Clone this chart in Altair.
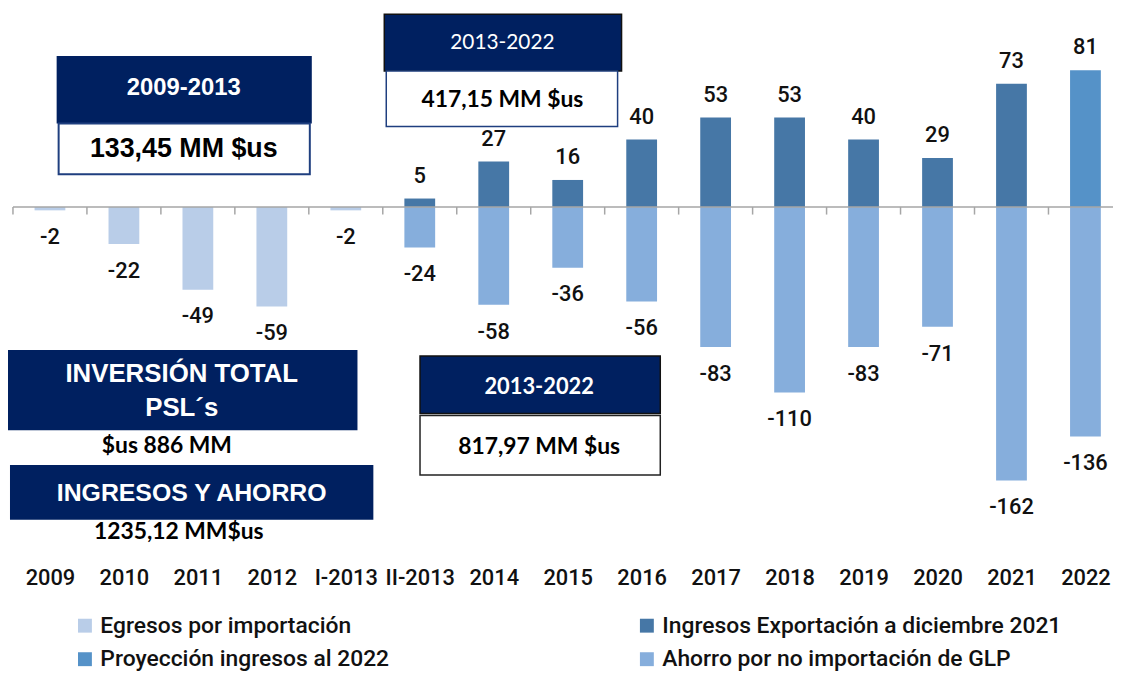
import altair as alt
import pandas as pd

# ---------------- data ----------------
categories = ["2009", "2010", "2011", "2012", "I-2013", "II-2013", "2014", "2015",
              "2016", "2017", "2018", "2019", "2020", "2021", "2022"]

series_names = ["Egresos por importación",
                "Ingresos Exportación a diciembre 2021",
                "Proyección ingresos al 2022",
                "Ahorro por no importación de GLP"]
series_colors = ["#B9CDE8", "#4677A6", "#5592C8", "#86AEDC"]
# legend lists entries column by column: left column then right column
legend_order = [series_names[0], series_names[2], series_names[1], series_names[3]]

egresos_cats = ["2009", "2010", "2011", "2012", "I-2013"]
egresos_vals = [-2, -22, -49, -59, -2]

ingresos_cats = ["II-2013", "2014", "2015", "2016", "2017", "2018", "2019", "2020", "2021"]
ingresos_vals = [5, 27, 16, 40, 53, 53, 40, 29, 73]

proyeccion_cats = ["2022"]
proyeccion_vals = [81]

ahorro_cats = ["II-2013", "2014", "2015", "2016", "2017", "2018", "2019", "2020", "2021", "2022"]
ahorro_vals = [-24, -58, -36, -56, -83, -110, -83, -71, -162, -136]

rows = []
for name, cats, vals in zip(series_names,
                            [egresos_cats, ingresos_cats, proyeccion_cats, ahorro_cats],
                            [egresos_vals, ingresos_vals, proyeccion_vals, ahorro_vals]):
    for c, v in zip(cats, vals):
        rows.append({"cat": c, "pos": categories.index(c) + 0.5, "series": name,
                     "value": v, "label": str(v)})
df = pd.DataFrame(rows)
ticks_df = pd.DataFrame({"edge": list(range(len(categories)))})
one = pd.DataFrame({"k": [0]})

color_of = dict(zip(series_names, series_colors))

# ---------------- styling ----------------
NUM_FONT = "Roboto"
ARIAL = "Liberation Sans"
CAL = "Lato"
NAVY = "#002060"

PLOT_W = 1108
STEP = 74.5
cat_js = "[" + ",".join("'%s'" % c for c in categories) + "]"

x_scale = alt.Scale(domain=[0, PLOT_W / STEP], nice=False, zero=False, padding=0)
x_axis = alt.Axis(title=None, domain=False, ticks=False, grid=False, labelAngle=0,
                  values=[i + 0.5 for i in range(len(categories))],
                  labelExpr=cat_js + "[floor(datum.value)]",
                  labelFont=NUM_FONT, labelFontSize=22, labelFontWeight=500,
                  labelColor="#111111", labelPadding=33, labelBaseline="middle",
                  labelOverlap=False, labelFlush=False)
y_scale = alt.Scale(domain=[-200, 100], nice=False, zero=True, padding=0)

x_enc = alt.X("pos:Q", scale=x_scale, axis=x_axis)
y_enc = alt.Y("value:Q", scale=y_scale, axis=None, stack=None)

base = alt.Chart(df)

bars = base.mark_bar(size=31).encode(
    x=x_enc, y=y_enc,
    color=alt.Color("series:N",
                    scale=alt.Scale(domain=legend_order,
                                    range=[color_of[s] for s in legend_order]),
                    legend=alt.Legend(title=None, orient="none", legendX=61, legendY=580,
                                      columns=2, columnPadding=248, rowPadding=10,
                                      symbolType="square", symbolSize=196, symbolStrokeWidth=0,
                                      labelFont=NUM_FONT, labelFontSize=23, labelFontWeight=500,
                                      labelColor="#111111", labelOffset=4, labelLimit=700)),
)

zero_line = alt.Chart(one).mark_rule(color="#A6A6A6", strokeWidth=1.5).encode(
    y=alt.Y("k:Q", scale=y_scale, axis=None))

ticks = alt.Chart(ticks_df).transform_calculate(lo="0", hi="-4.5").mark_rule(
    color="#A6A6A6", strokeWidth=1.5).encode(
    x=alt.X("edge:Q", scale=x_scale, axis=x_axis),
    y=alt.Y("lo:Q", scale=y_scale, axis=None), y2="hi:Q")

pos_labels = base.transform_filter("datum.value > 0").mark_text(
    font=NUM_FONT, fontSize=22, fontWeight=500, color="#111111",
    baseline="middle", dy=-23).encode(x=x_enc, y=y_enc, text="label:N")

neg_labels = base.transform_filter("datum.value < 0").mark_text(
    font=NUM_FONT, fontSize=22, fontWeight=500, color="#111111",
    baseline="middle", dy=27).encode(x=x_enc, y=y_enc, text="label:N")


def box(x1, x2, y1, y2, fill, stroke=None, sw=0):
    kw = dict(fill=fill)
    if stroke:
        kw.update(stroke=stroke, strokeWidth=sw)
    return alt.Chart(one).mark_rect(**kw).encode(
        x=alt.value(x1), x2=alt.value(x2), y=alt.value(y1), y2=alt.value(y2))


def txt(s, x, y, font, size, color, weight="bold"):
    return alt.Chart(one).mark_text(font=font, fontSize=size, color=color,
                                    fontWeight=weight, align="center",
                                    baseline="middle").encode(
        x=alt.value(x), y=alt.value(y), text=alt.value(s))


annotations = [
    box(44, 301, 18, 86, NAVY),
    box(46, 299, 86, 137, "white", "#1F3F7F", 2),
    txt("2009-2013", 172, 50, ARIAL, 24, "white"),
    txt("133,45 MM $us", 172, 112, ARIAL, 27, "black"),

    box(374, 613, -24, 33, NAVY, "#111111", 1.5),
    box(376, 609, 33, 89, "white", "#1F3F7F", 1.5),
    txt("2013-2022", 493, 5, CAL, 21, "white", "normal"),
    txt("417,15 MM $us", 493, 62, CAL, 23, "black"),

    box(410, 652, 320, 378, NAVY, "#111111", 1.5),
    box(410, 652, 380, 440, "white", "#222222", 1.5),
    txt("2013-2022", 530, 351, CAL, 22, "white"),
    txt("817,97 MM $us", 530, 412, CAL, 23, "black"),

    box(-5, 347, 314, 395, NAVY),
    txt("INVERSIÓN TOTAL", 170, 338, ARIAL, 26, "white"),
    txt("PSL´s", 170, 373, ARIAL, 26, "white"),
    txt("$us 886 MM", 155, 411, CAL, 23, "black"),

    box(-3, 363, 430, 485, NAVY),
    txt("INGRESOS Y AHORRO", 180, 458, ARIAL, 25, "white"),
    txt("1235,12 MM$us", 167, 497, CAL, 23, "black"),
]

chart = alt.layer(bars, zero_line, ticks, pos_labels, neg_labels, *annotations).properties(
    width=PLOT_W, height=510,
    autosize=alt.AutoSizeParams(type="none"),
    padding={"left": 5, "top": 28, "right": 0, "bottom": 127},
).configure_view(stroke=None)

chart.save("out.html", embed_options={"renderer": "svg", "actions": False})
